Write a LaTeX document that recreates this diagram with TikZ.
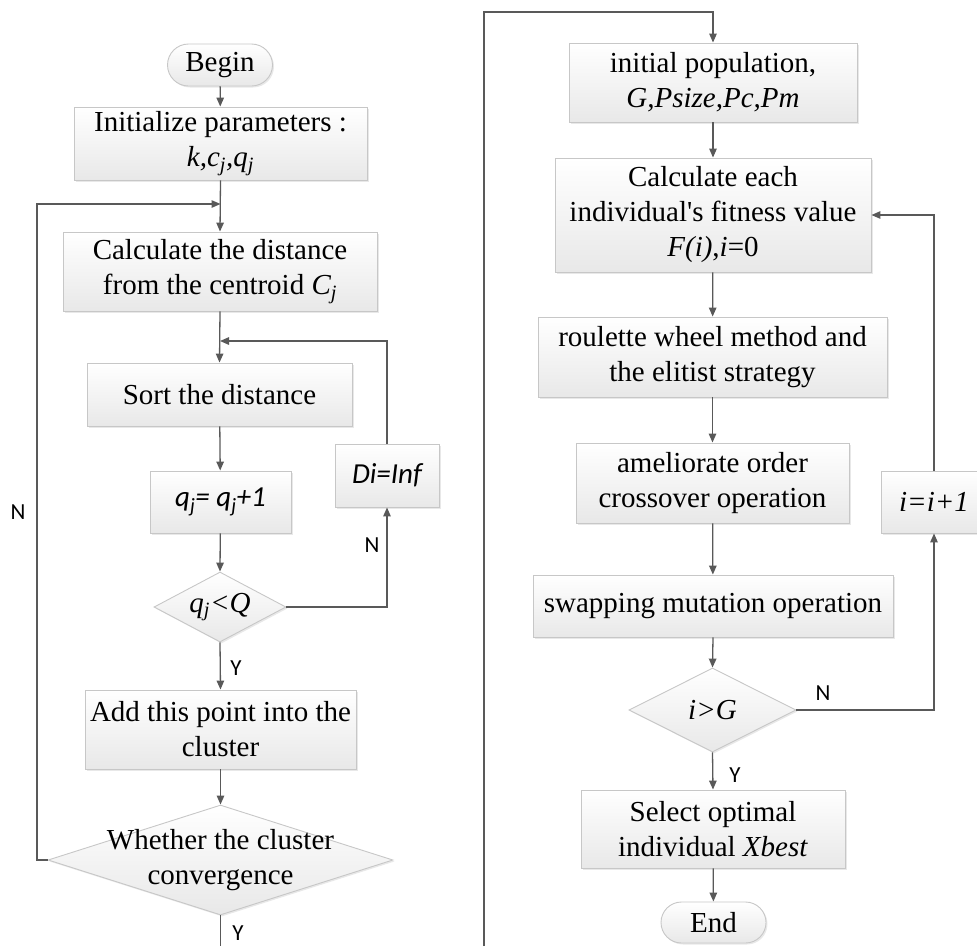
\documentclass[tikz,border=0pt]{standalone}
\usepackage{fontspec}
\setmainfont{Liberation Serif}
\newfontfamily\cbfont{Carlito}
\usetikzlibrary{shapes.geometric,shapes.misc,arrows.meta,shadows}
\begin{document}
\begin{tikzpicture}[x=1pt,y=-1pt,
  txt/.style={font=\fontsize{29}{35}\selectfont, text=black, align=center, inner sep=0pt},
  boxbase/.style={draw=black!22, line width=0.9pt, top color=white, bottom color=black!9,
     drop shadow={shadow xshift=1.5pt, shadow yshift=-1.5pt, opacity=0.18, fill=black!50}},
  pbox/.style={boxbase, rectangle, txt, minimum width=#1},
  term/.style={boxbase, rounded rectangle, txt, minimum width=105, minimum height=42},
  dia/.style={boxbase, diamond, inner sep=0pt},
  conn/.style={draw=black!65, line width=1.3pt},
  arr/.style={conn, -{Triangle[length=9pt,width=7.5pt]}},
  yn/.style={font=\cbfont\fontsize{23}{26}\selectfont, text=black, inner sep=0pt}
]
\useasboundingbox (0,0) rectangle (977,946);
\clip (0,0) rectangle (977,946);

% ---------- left column ----------
\node[term] (begin) at (220,65) {Begin};
\node[pbox=293, minimum height=73] (init) at (220.5,143.5) {Initialize parameters :\\\textit{k,c\textsubscript{j},q\textsubscript{j}}};
\node[pbox=314, minimum height=79] (calc) at (220,271.5) {Calculate the distance\\from the centroid \textit{C\textsubscript{j}}};
\node[pbox=265, minimum height=63] (sort) at (219.5,394.5) {Sort the distance};
\node[pbox=141, minimum height=62] (qinc) at (220.5,502) {\cbfont\itshape q\textsubscript{j}= q\textsubscript{j}+1};
\node[dia, minimum width=132, minimum height=70] (qdec) at (220,607) {};
\node[txt] (qdect) at (qdec) {\textit{q\textsubscript{j}<Q}};
\node[pbox=104, minimum height=63] (di) at (387,475.5) {\cbfont\itshape Di=Inf};
\node[pbox=271, minimum height=79] (addpt) at (220.5,729.5) {Add this point into the\\cluster};
\node[dia, minimum width=345, minimum height=110] (conv) at (220.5,860) {};
\node[txt] (convt) at (conv) {Whether the cluster\\convergence};

\coordinate (j1) at (220.5,204);
\coordinate (j2) at (220,341);
\coordinate (lc) at (37,860);
\coordinate (lt) at (37,204);
\coordinate (lb) at (220.5,946);

\draw[arr] (begin) -- (init);
\draw[arr] (init.south) -- (calc.north);
\draw[arr] (calc.south) -- (sort.north);
\draw[arr] (di.north) |- (j2);
\draw[arr] (sort) -- (qinc);
\draw[arr] (qinc) -- (qdec.north);
\draw[arr] (qdec.east) -| (di.south);
\draw[arr] (qdec.south) -- (addpt.north);
\draw[arr] (addpt) -- (conv.north);
\draw[arr] (conv.west) -- (lc) -- (lt) -- (j1);
\draw[conn] (conv.south) -- (lb);

\node[yn] (n1) at (372,545) {N};
\node[yn] (y1) at (236,668) {Y};
\node[yn] (n2) at (18,512) {N};
\node[yn] (y2) at (238,933) {Y};

% ---------- right column ----------
\node[pbox=288, minimum height=79] (pop) at (713,82.5) {initial population,\\\textit{G,Psize,Pc,Pm}};
\node[pbox=316, minimum height=114] (fit) at (713,215) {Calculate each\\individual\textquotesingle s fitness value\\\textit{F(i)},\textit{i}=0};
\node[pbox=349, minimum height=80] (roul) at (712.5,357) {roulette wheel method and\\the elitist strategy};
\node[pbox=273, minimum height=80] (amel) at (712.5,483) {ameliorate order\\crossover operation};
\node[pbox=360, minimum height=62] (swap) at (713,606) {swapping mutation operation};
\node[dia, minimum width=167, minimum height=84] (ig) at (712.5,710) {};
\node[txt] (igt) at (ig) {\textit{i>G}};
\node[pbox=264, minimum height=78] (sel) at (713,829) {Select optimal\\individual \textit{Xbest}};
\node[term, minimum height=41] (end) at (713.5,922.5) {End};
\node[pbox=106, minimum height=62] (iinc) at (934,502) {\textit{i=i+1}};

\coordinate (rb) at (484,946);
\coordinate (rt) at (484,12);
\coordinate (rtr) at (713,12);

\draw[arr] (rb) -- (rt) -- (rtr) -- (pop.north);
\draw[arr] (pop) -- (fit);
\draw[arr] (fit) -- (roul);
\draw[arr] (roul) -- (amel);
\draw[arr] (amel) -- (swap);
\draw[arr] (swap.south) -- (ig.north);
\draw[arr] (ig.east) -| (iinc.south);
\draw[arr] (iinc.north) |- (fit.east);
\draw[arr] (ig.south) -- (sel.north);
\draw[arr] (sel) -- (end);

\node[yn] (n3) at (823,693) {N};
\node[yn] (y3) at (735,775) {Y};
\end{tikzpicture}
\end{document}
